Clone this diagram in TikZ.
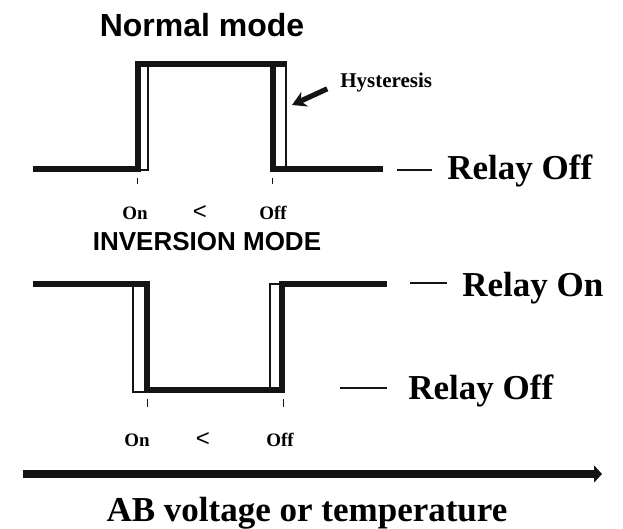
\documentclass[tikz,border=0pt]{standalone}
\usepackage{fontspec}
\setmainfont{Liberation Serif}
\setsansfont{Liberation Sans}
\usetikzlibrary{arrows.meta,positioning,calc}
\definecolor{ink}{HTML}{141414}
\tikzset{
  sig/.style={draw=ink, line width=3.3pt, line join=miter, line cap=butt},
  band/.style={draw=ink, line width=0.9pt},
  tickmark/.style={draw=ink, line width=0.5pt},
  lead/.style={draw=ink, line width=0.6pt},
  heading/.style={font=\sffamily\bfseries\fontsize{16}{18}\selectfont, inner sep=0pt, anchor=base},
  subhead/.style={font=\sffamily\bfseries\fontsize{13}{15}\selectfont, inner sep=0pt, anchor=base},
  relay/.style={font=\bfseries\fontsize{17.5}{20}\selectfont, inner sep=0pt, anchor=base west},
  thr/.style={font=\bfseries\fontsize{9.5}{11}\selectfont, inner sep=0pt, anchor=base},
  cmp/.style={font=\sffamily\fontsize{12}{13}\selectfont, inner sep=0pt, anchor=base},
  note/.style={font=\bfseries\fontsize{10.5}{12}\selectfont, inner sep=0pt, anchor=base west},
  pointer/.style={draw=ink, line width=2.6pt, -{Stealth[length=7pt,width=8pt]}},
  axis/.style={draw=ink, line width=4pt, -{Triangle[length=4pt,width=8.5pt]}}
}

\begin{document}
\begin{tikzpicture}[x=0.5pt, y=-0.5pt]
  \useasboundingbox (0,0) rectangle (623,529);

  % normal mode
  \node[heading] (normal) at (202,37) {Normal mode};
  \draw[band] (138,64) rectangle (148,170);
  \draw[band] (273,64) rectangle (286,170);
  \draw[sig] (33,169) -- (138,169) -- (138,64) -- (287,64);
  \draw[sig] (273,64) -- (273,169) -- (383,169);
  \draw[tickmark] (137,178) -- (137,184);
  \draw[tickmark] (272,178) -- (272,184);

  \node[note] (hyst) at (340,88) {Hysteresis};
  \coordinate (hysttip) at (292,105);
  \draw[pointer, shorten <=7pt] (hyst.west) -- (hysttip);

  \coordinate (lvlOffA) at (397,170);
  \node[relay] (relayOffA) at (447,180) {Relay Off};
  \draw[lead, shorten >=7.5pt] (lvlOffA) -- (relayOffA.west |- lvlOffA);

  \node[thr] (onA) at (135,220) {On};
  \node[cmp] (ltA) at (200,220) {<};
  \node[thr] (offA) at (273,220) {Off};

  % inversion mode
  \node[subhead] (inv) at (207,251) {INVERSION MODE};
  \draw[band] (133,284) rectangle (147,392);
  \draw[band] (270,284) rectangle (282,392);
  \draw[sig] (33,284) -- (147,284) -- (147,390) -- (282,390) -- (282,284) -- (387,284);
  \draw[tickmark] (147,399) -- (147,407);
  \draw[tickmark] (283,399) -- (283,407);

  \coordinate (lvlOn) at (410,283);
  \node[relay] (relayOn) at (462,297) {Relay On};
  \draw[lead, shorten >=7.5pt] (lvlOn) -- (relayOn.west |- lvlOn);

  \coordinate (lvlOffB) at (340,388);
  \node[relay] (relayOffB) at (408,400) {Relay Off};
  \draw[lead, shorten >=10.5pt] (lvlOffB) -- (relayOffB.west |- lvlOffB);

  \node[thr] (onB) at (137,447) {On};
  \node[cmp] (ltB) at (203,447) {<};
  \node[thr] (offB) at (280,447) {Off};

  % axis
  \coordinate (axL) at (23,474);
  \coordinate (axR) at (602,474);
  \draw[axis] (axL) -- (axR);
  \node[relay, anchor=base] (axislbl) at (307,522) {AB voltage or temperature};
\end{tikzpicture}
\end{document}
